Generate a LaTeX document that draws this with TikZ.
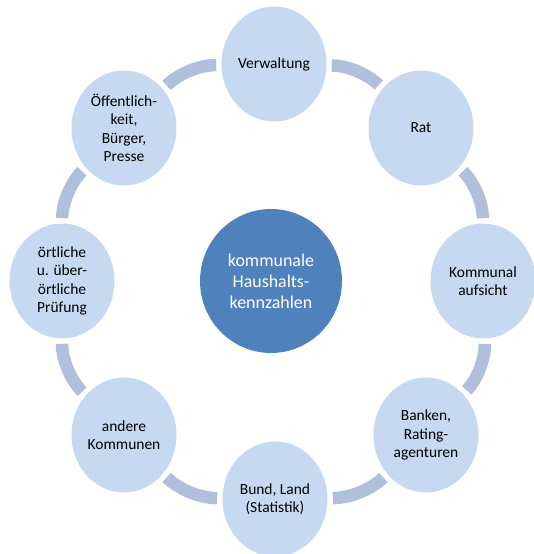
\documentclass[tikz,border=0pt]{standalone}
\usepackage{fontspec}
\setmainfont{Carlito}
\usetikzlibrary{shapes.geometric}
\definecolor{ringfill}{HTML}{C6D9F0}
\definecolor{ringlink}{HTML}{AFBFDC}
\definecolor{hubfill}{HTML}{4F81BD}
\tikzset{
    partner/.style={ellipse, fill=ringfill, minimum width=2.1cm, minimum height=2.3cm,
        inner sep=0pt, align=center, font=\fontsize{8.8}{10.5}\selectfont},
    hub/.style={ellipse, fill=hubfill, minimum width=2.84cm, minimum height=2.88cm,
        inner sep=0pt, align=center, text=white, font=\fontsize{10.2}{12}\selectfont},
    link/.style={draw=ringlink, line width=0.25cm, line cap=butt, looseness=0.89,
        shorten <=0.1cm, shorten >=0.1cm}
}
\begin{document}
\begin{tikzpicture}
    \useasboundingbox (-5.48, -5.46) rectangle (5.20, 5.62);
    \node[hub] (kennzahlen) at (-0.06, 0) {kommunale\\Haushalts-\\kennzahlen};
    \node[partner] (verwaltung) at (0, 4.34) {Verwaltung};
    \node[partner] (rat) at (2.94, 3.06) {Rat};
    \node[partner] (aufsicht) at (4.18, 0) {Kommunal\\aufsicht};
    \node[partner] (banken) at (3.04, -3.08) {Banken,\\Rating-\\agenturen};
    \node[partner] (bund) at (0.02, -4.36) {Bund, Land\\(Statistik)};
    \node[partner] (kommunen) at (-3.0, -3.08) {andere\\Kommunen};
    \node[partner] (pruefung) at (-4.24, 0) {örtliche\\u. über-\\örtliche\\Prüfung};
    \node[partner] (oeffentlich) at (-3.0, 3.06) {Öffentlich-\\keit,\\Bürger,\\Presse};
    % ring
    \draw[link] (verwaltung) to[bend left=22] (rat);
    \draw[link] (rat) to[bend left=22] (aufsicht);
    \draw[link] (aufsicht) to[bend left=22] (banken);
    \draw[link] (banken) to[bend left=22] (bund);
    \draw[link] (bund) to[bend left=22] (kommunen);
    \draw[link] (kommunen) to[bend left=22] (pruefung);
    \draw[link] (pruefung) to[bend left=22] (oeffentlich);
    \draw[link] (oeffentlich) to[bend left=22] (verwaltung);
\end{tikzpicture}
\end{document}
